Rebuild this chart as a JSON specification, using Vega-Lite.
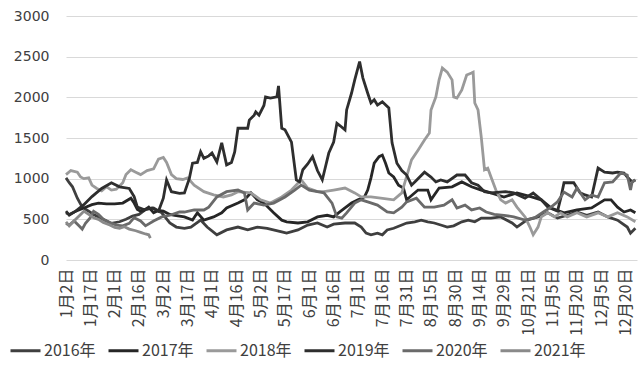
{
"$schema": "https://vega.github.io/schema/vega-lite/v6.json",
"width": 571, "height": 244,
"padding": {"left": 9, "top": 9, "right": 5, "bottom": 30},
"background": "white",
"config": {"view": {"stroke": null}, "font": "DejaVu Sans"},
"data": {"values": [
{"s":"2016年","d":0,"v":1010},{"s":"2016年","d":2,"v":950},{"s":"2016年","d":4,"v":900},{"s":"2016年","d":7,"v":760},{"s":"2016年","d":10,"v":650},{"s":"2016年","d":14,"v":600},{"s":"2016年","d":17,"v":560},{"s":"2016年","d":21,"v":520},{"s":"2016年","d":25,"v":480},{"s":"2016年","d":28,"v":450},{"s":"2016年","d":33,"v":470},{"s":"2016年","d":37,"v":500},{"s":"2016年","d":41,"v":540},{"s":"2016年","d":45,"v":560},{"s":"2016年","d":49,"v":620},{"s":"2016年","d":54,"v":640},{"s":"2016年","d":59,"v":580},{"s":"2016年","d":64,"v":455},{"s":"2016年","d":68,"v":405},{"s":"2016年","d":73,"v":390},{"s":"2016年","d":77,"v":405},{"s":"2016年","d":83,"v":490},{"s":"2016年","d":87,"v":405},{"s":"2016年","d":93,"v":310},{"s":"2016年","d":99,"v":370},{"s":"2016年","d":106,"v":405},{"s":"2016年","d":112,"v":370},{"s":"2016年","d":118,"v":405},{"s":"2016年","d":124,"v":390},{"s":"2016年","d":133,"v":345},{"s":"2016年","d":136,"v":330},{"s":"2016年","d":143,"v":370},{"s":"2016年","d":149,"v":430},{"s":"2016年","d":155,"v":455},{"s":"2016年","d":161,"v":405},{"s":"2016年","d":165,"v":440},{"s":"2016年","d":172,"v":455},{"s":"2016年","d":178,"v":455},{"s":"2016年","d":182,"v":405},{"s":"2016年","d":185,"v":330},{"s":"2016年","d":188,"v":310},{"s":"2016年","d":192,"v":330},{"s":"2016年","d":195,"v":310},{"s":"2016年","d":198,"v":370},{"s":"2016年","d":202,"v":390},{"s":"2016年","d":207,"v":430},{"s":"2016年","d":210,"v":455},{"s":"2016年","d":215,"v":470},{"s":"2016年","d":219,"v":490},{"s":"2016年","d":223,"v":470},{"s":"2016年","d":227,"v":455},{"s":"2016年","d":231,"v":430},{"s":"2016年","d":235,"v":405},{"s":"2016年","d":239,"v":420},{"s":"2016年","d":244,"v":470},{"s":"2016年","d":248,"v":490},{"s":"2016年","d":252,"v":470},{"s":"2016年","d":256,"v":515},{"s":"2016年","d":262,"v":515},{"s":"2016年","d":268,"v":530},{"s":"2016年","d":275,"v":455},{"s":"2016年","d":278,"v":405},{"s":"2016年","d":284,"v":490},{"s":"2016年","d":291,"v":530},{"s":"2016年","d":297,"v":580},{"s":"2016年","d":303,"v":515},{"s":"2016年","d":309,"v":550},{"s":"2016年","d":315,"v":590},{"s":"2016年","d":321,"v":550},{"s":"2016年","d":328,"v":590},{"s":"2016年","d":334,"v":530},{"s":"2016年","d":340,"v":490},{"s":"2016年","d":346,"v":405},{"s":"2016年","d":348,"v":330},{"s":"2016年","d":351,"v":390},
{"s":"2017年","d":0,"v":580},{"s":"2017年","d":2,"v":560},{"s":"2017年","d":6,"v":600},{"s":"2017年","d":11,"v":640},{"s":"2017年","d":16,"v":680},{"s":"2017年","d":20,"v":700},{"s":"2017年","d":25,"v":690},{"s":"2017年","d":30,"v":690},{"s":"2017年","d":35,"v":700},{"s":"2017年","d":40,"v":760},{"s":"2017年","d":42,"v":700},{"s":"2017年","d":44,"v":620},{"s":"2017年","d":46,"v":600},{"s":"2017年","d":48,"v":610},{"s":"2017年","d":51,"v":650},{"s":"2017年","d":54,"v":580},{"s":"2017年","d":57,"v":610},{"s":"2017年","d":60,"v":600},{"s":"2017年","d":64,"v":560},{"s":"2017年","d":67,"v":550},{"s":"2017年","d":70,"v":540},{"s":"2017年","d":73,"v":530},{"s":"2017年","d":78,"v":490},{"s":"2017年","d":81,"v":580},{"s":"2017年","d":85,"v":490},{"s":"2017年","d":91,"v":530},{"s":"2017年","d":96,"v":580},{"s":"2017年","d":99,"v":640},{"s":"2017年","d":106,"v":700},{"s":"2017年","d":110,"v":740},{"s":"2017年","d":114,"v":825},{"s":"2017年","d":118,"v":740},{"s":"2017年","d":122,"v":700},{"s":"2017年","d":128,"v":580},{"s":"2017年","d":133,"v":490},{"s":"2017年","d":136,"v":470},{"s":"2017年","d":143,"v":455},{"s":"2017年","d":149,"v":470},{"s":"2017年","d":155,"v":530},{"s":"2017年","d":161,"v":550},{"s":"2017年","d":165,"v":530},{"s":"2017年","d":168,"v":580},{"s":"2017年","d":172,"v":640},{"s":"2017年","d":176,"v":700},{"s":"2017年","d":180,"v":740},{"s":"2017年","d":184,"v":775},{"s":"2017年","d":186,"v":860},{"s":"2017年","d":188,"v":1010},{"s":"2017年","d":190,"v":1190},{"s":"2017年","d":193,"v":1270},{"s":"2017年","d":195,"v":1290},{"s":"2017年","d":197,"v":1190},{"s":"2017年","d":199,"v":1070},{"s":"2017年","d":202,"v":1020},{"s":"2017年","d":205,"v":920},{"s":"2017年","d":208,"v":885},{"s":"2017年","d":210,"v":740},{"s":"2017年","d":217,"v":860},{"s":"2017年","d":223,"v":860},{"s":"2017年","d":225,"v":740},{"s":"2017年","d":230,"v":885},{"s":"2017年","d":238,"v":900},{"s":"2017年","d":244,"v":960},{"s":"2017年","d":250,"v":900},{"s":"2017年","d":256,"v":860},{"s":"2017年","d":262,"v":825},{"s":"2017年","d":270,"v":775},{"s":"2017年","d":278,"v":825},{"s":"2017年","d":287,"v":775},{"s":"2017年","d":293,"v":740},{"s":"2017年","d":299,"v":640},{"s":"2017年","d":307,"v":580},{"s":"2017年","d":315,"v":615},{"s":"2017年","d":324,"v":640},{"s":"2017年","d":332,"v":740},{"s":"2017年","d":336,"v":740},{"s":"2017年","d":340,"v":650},{"s":"2017年","d":344,"v":590},{"s":"2017年","d":348,"v":615},{"s":"2017年","d":351,"v":580},
{"s":"2018年","d":0,"v":1050},{"s":"2018年","d":3,"v":1100},{"s":"2018年","d":7,"v":1080},{"s":"2018年","d":9,"v":1020},{"s":"2018年","d":11,"v":1000},{"s":"2018年","d":14,"v":1010},{"s":"2018年","d":16,"v":920},{"s":"2018年","d":19,"v":880},{"s":"2018年","d":22,"v":850},{"s":"2018年","d":25,"v":900},{"s":"2018年","d":28,"v":860},{"s":"2018年","d":31,"v":870},{"s":"2018年","d":35,"v":950},{"s":"2018年","d":37,"v":1050},{"s":"2018年","d":40,"v":1110},{"s":"2018年","d":43,"v":1080},{"s":"2018年","d":46,"v":1050},{"s":"2018年","d":50,"v":1100},{"s":"2018年","d":54,"v":1120},{"s":"2018年","d":57,"v":1240},{"s":"2018年","d":60,"v":1260},{"s":"2018年","d":62,"v":1200},{"s":"2018年","d":65,"v":1050},{"s":"2018年","d":68,"v":1000},{"s":"2018年","d":72,"v":990},{"s":"2018年","d":75,"v":1010},{"s":"2018年","d":79,"v":920},{"s":"2018年","d":85,"v":840},{"s":"2018年","d":91,"v":800},{"s":"2018年","d":97,"v":775},{"s":"2018年","d":102,"v":800},{"s":"2018年","d":106,"v":840},{"s":"2018年","d":114,"v":825},{"s":"2018年","d":120,"v":740},{"s":"2018年","d":126,"v":700},{"s":"2018年","d":133,"v":775},{"s":"2018年","d":139,"v":860},{"s":"2018年","d":145,"v":985},{"s":"2018年","d":149,"v":885},{"s":"2018年","d":155,"v":840},{"s":"2018年","d":159,"v":840},{"s":"2018年","d":165,"v":860},{"s":"2018年","d":172,"v":885},{"s":"2018年","d":178,"v":825},{"s":"2018年","d":182,"v":775},{"s":"2018年","d":188,"v":775},{"s":"2018年","d":194,"v":760},{"s":"2018年","d":202,"v":740},{"s":"2018年","d":207,"v":825},{"s":"2018年","d":209,"v":960},{"s":"2018年","d":213,"v":1230},{"s":"2018年","d":217,"v":1350},{"s":"2018年","d":221,"v":1475},{"s":"2018年","d":224,"v":1560},{"s":"2018年","d":225,"v":1845},{"s":"2018年","d":228,"v":2005},{"s":"2018年","d":230,"v":2215},{"s":"2018年","d":232,"v":2360},{"s":"2018年","d":235,"v":2310},{"s":"2018年","d":238,"v":2215},{"s":"2018年","d":239,"v":2005},{"s":"2018年","d":241,"v":1990},{"s":"2018年","d":244,"v":2090},{"s":"2018年","d":247,"v":2275},{"s":"2018年","d":250,"v":2300},{"s":"2018年","d":251,"v":2310},{"s":"2018年","d":252,"v":1930},{"s":"2018年","d":254,"v":1845},{"s":"2018年","d":256,"v":1510},{"s":"2018年","d":258,"v":1110},{"s":"2018年","d":260,"v":1130},{"s":"2018年","d":262,"v":1020},{"s":"2018年","d":265,"v":860},{"s":"2018年","d":268,"v":740},{"s":"2018年","d":271,"v":700},{"s":"2018年","d":275,"v":740},{"s":"2018年","d":278,"v":650},{"s":"2018年","d":283,"v":530},{"s":"2018年","d":286,"v":405},{"s":"2018年","d":288,"v":310},{"s":"2018年","d":291,"v":405},{"s":"2018年","d":293,"v":530},{"s":"2018年","d":297,"v":580},{"s":"2018年","d":301,"v":530},{"s":"2018年","d":305,"v":580},{"s":"2018年","d":309,"v":530},{"s":"2018年","d":315,"v":580},{"s":"2018年","d":321,"v":530},{"s":"2018年","d":328,"v":580},{"s":"2018年","d":334,"v":530},{"s":"2018年","d":340,"v":580},{"s":"2018年","d":346,"v":530},{"s":"2018年","d":351,"v":470},
{"s":"2019年","d":0,"v":600},{"s":"2019年","d":2,"v":550},{"s":"2019年","d":6,"v":600},{"s":"2019年","d":11,"v":680},{"s":"2019年","d":16,"v":780},{"s":"2019年","d":22,"v":880},{"s":"2019年","d":28,"v":950},{"s":"2019年","d":33,"v":900},{"s":"2019年","d":39,"v":880},{"s":"2019年","d":42,"v":780},{"s":"2019年","d":44,"v":650},{"s":"2019年","d":48,"v":620},{"s":"2019年","d":53,"v":640},{"s":"2019年","d":57,"v":600},{"s":"2019年","d":60,"v":760},{"s":"2019年","d":62,"v":985},{"s":"2019年","d":65,"v":840},{"s":"2019年","d":70,"v":820},{"s":"2019年","d":73,"v":824},{"s":"2019年","d":76,"v":1000},{"s":"2019年","d":78,"v":1190},{"s":"2019年","d":81,"v":1200},{"s":"2019年","d":83,"v":1330},{"s":"2019年","d":85,"v":1250},{"s":"2019年","d":88,"v":1280},{"s":"2019年","d":90,"v":1315},{"s":"2019年","d":93,"v":1205},{"s":"2019年","d":96,"v":1440},{"s":"2019年","d":99,"v":1170},{"s":"2019年","d":102,"v":1200},{"s":"2019年","d":104,"v":1330},{"s":"2019年","d":106,"v":1620},{"s":"2019年","d":112,"v":1620},{"s":"2019年","d":113,"v":1720},{"s":"2019年","d":116,"v":1780},{"s":"2019年","d":117,"v":1820},{"s":"2019年","d":119,"v":1780},{"s":"2019年","d":122,"v":1900},{"s":"2019年","d":123,"v":2005},{"s":"2019年","d":126,"v":1990},{"s":"2019年","d":130,"v":2005},{"s":"2019年","d":131,"v":2140},{"s":"2019年","d":133,"v":1620},{"s":"2019年","d":135,"v":1600},{"s":"2019年","d":139,"v":1450},{"s":"2019年","d":142,"v":985},{"s":"2019年","d":144,"v":960},{"s":"2019年","d":146,"v":1110},{"s":"2019年","d":149,"v":1180},{"s":"2019年","d":152,"v":1270},{"s":"2019年","d":155,"v":1100},{"s":"2019年","d":158,"v":985},{"s":"2019年","d":160,"v":1150},{"s":"2019年","d":162,"v":1315},{"s":"2019年","d":165,"v":1450},{"s":"2019年","d":167,"v":1680},{"s":"2019年","d":169,"v":1650},{"s":"2019年","d":172,"v":1600},{"s":"2019年","d":173,"v":1845},{"s":"2019年","d":176,"v":2050},{"s":"2019年","d":178,"v":2215},{"s":"2019年","d":181,"v":2440},{"s":"2019年","d":183,"v":2240},{"s":"2019年","d":186,"v":2050},{"s":"2019年","d":188,"v":1930},{"s":"2019年","d":190,"v":1970},{"s":"2019年","d":192,"v":1905},{"s":"2019年","d":195,"v":1945},{"s":"2019年","d":199,"v":1870},{"s":"2019年","d":201,"v":1440},{"s":"2019年","d":204,"v":1190},{"s":"2019年","d":207,"v":1100},{"s":"2019年","d":210,"v":1045},{"s":"2019年","d":213,"v":920},{"s":"2019年","d":215,"v":960},{"s":"2019年","d":221,"v":1080},{"s":"2019年","d":225,"v":1020},{"s":"2019年","d":228,"v":960},{"s":"2019年","d":231,"v":985},{"s":"2019年","d":235,"v":960},{"s":"2019年","d":241,"v":1045},{"s":"2019年","d":246,"v":1045},{"s":"2019年","d":250,"v":950},{"s":"2019年","d":254,"v":920},{"s":"2019年","d":258,"v":840},{"s":"2019年","d":262,"v":825},{"s":"2019年","d":271,"v":840},{"s":"2019年","d":276,"v":825},{"s":"2019年","d":283,"v":760},{"s":"2019年","d":288,"v":825},{"s":"2019年","d":293,"v":740},{"s":"2019年","d":297,"v":650},{"s":"2019年","d":303,"v":600},{"s":"2019年","d":305,"v":760},{"s":"2019年","d":307,"v":950},{"s":"2019年","d":313,"v":950},{"s":"2019年","d":317,"v":825},{"s":"2019年","d":320,"v":800},{"s":"2019年","d":324,"v":775},{"s":"2019年","d":328,"v":1130},{"s":"2019年","d":332,"v":1080},{"s":"2019年","d":337,"v":1070},{"s":"2019年","d":340,"v":1080},{"s":"2019年","d":344,"v":1070},{"s":"2019年","d":346,"v":1020},{"s":"2019年","d":349,"v":960},{"s":"2019年","d":351,"v":985},
{"s":"2020年","d":0,"v":450},{"s":"2020年","d":2,"v":430},{"s":"2020年","d":5,"v":480},{"s":"2020年","d":8,"v":420},{"s":"2020年","d":10,"v":380},{"s":"2020年","d":12,"v":450},{"s":"2020年","d":15,"v":520},{"s":"2020年","d":17,"v":600},{"s":"2020年","d":20,"v":560},{"s":"2020年","d":23,"v":500},{"s":"2020年","d":27,"v":460},{"s":"2020年","d":31,"v":430},{"s":"2020年","d":35,"v":420},{"s":"2020年","d":39,"v":450},{"s":"2020年","d":42,"v":520},{"s":"2020年","d":46,"v":480},{"s":"2020年","d":49,"v":420},{"s":"2020年","d":54,"v":480},{"s":"2020年","d":59,"v":530},{"s":"2020年","d":64,"v":550},{"s":"2020年","d":70,"v":590},{"s":"2020年","d":73,"v":590},{"s":"2020年","d":79,"v":615},{"s":"2020年","d":85,"v":615},{"s":"2020年","d":88,"v":650},{"s":"2020年","d":93,"v":775},{"s":"2020年","d":99,"v":840},{"s":"2020年","d":106,"v":860},{"s":"2020年","d":110,"v":825},{"s":"2020年","d":112,"v":615},{"s":"2020年","d":116,"v":700},{"s":"2020年","d":122,"v":675},{"s":"2020年","d":128,"v":700},{"s":"2020年","d":135,"v":775},{"s":"2020年","d":141,"v":860},{"s":"2020年","d":145,"v":920},{"s":"2020年","d":150,"v":860},{"s":"2020年","d":155,"v":840},{"s":"2020年","d":159,"v":825},{"s":"2020年","d":164,"v":700},{"s":"2020年","d":167,"v":530},{"s":"2020年","d":170,"v":515},{"s":"2020年","d":173,"v":580},{"s":"2020年","d":178,"v":700},{"s":"2020年","d":182,"v":740},{"s":"2020年","d":186,"v":715},{"s":"2020年","d":192,"v":675},{"s":"2020年","d":198,"v":590},{"s":"2020年","d":202,"v":580},{"s":"2020年","d":207,"v":650},{"s":"2020年","d":210,"v":715},{"s":"2020年","d":216,"v":760},{"s":"2020年","d":221,"v":650},{"s":"2020年","d":227,"v":650},{"s":"2020年","d":233,"v":675},{"s":"2020年","d":238,"v":740},{"s":"2020年","d":241,"v":640},{"s":"2020年","d":246,"v":675},{"s":"2020年","d":250,"v":615},{"s":"2020年","d":255,"v":640},{"s":"2020年","d":259,"v":590},{"s":"2020年","d":264,"v":560},{"s":"2020年","d":270,"v":550},{"s":"2020年","d":276,"v":530},{"s":"2020年","d":283,"v":490},{"s":"2020年","d":289,"v":520},{"s":"2020年","d":295,"v":600},{"s":"2020年","d":299,"v":650},{"s":"2020年","d":303,"v":715},{"s":"2020年","d":307,"v":835},{"s":"2020年","d":312,"v":775},{"s":"2020年","d":315,"v":885},{"s":"2020年","d":320,"v":740},{"s":"2020年","d":324,"v":800},{"s":"2020年","d":328,"v":775},{"s":"2020年","d":332,"v":950},{"s":"2020年","d":337,"v":960},{"s":"2020年","d":342,"v":1070},{"s":"2020年","d":346,"v":1045},{"s":"2020年","d":348,"v":860},{"s":"2020年","d":349,"v":960},{"s":"2020年","d":351,"v":985},
{"s":"2021年","d":0,"v":470},{"s":"2021年","d":2,"v":420},{"s":"2021年","d":6,"v":500},{"s":"2021年","d":9,"v":560},{"s":"2021年","d":11,"v":600},{"s":"2021年","d":14,"v":560},{"s":"2021年","d":17,"v":520},{"s":"2021年","d":20,"v":500},{"s":"2021年","d":23,"v":460},{"s":"2021年","d":27,"v":430},{"s":"2021年","d":30,"v":400},{"s":"2021年","d":33,"v":390},{"s":"2021年","d":36,"v":410},{"s":"2021年","d":39,"v":380},{"s":"2021年","d":43,"v":360},{"s":"2021年","d":46,"v":340},{"s":"2021年","d":49,"v":320},{"s":"2021年","d":51,"v":310},{"s":"2021年","d":52,"v":270}
]},
"mark": {"type": "line", "strokeWidth": 2.8},
"encoding": {
"x": {"field": "d", "type": "quantitative", "scale": {"domain": [0, 352], "nice": false, "zero": false},
 "axis": {"values": [0,15,30,45,60,75,90,105,120,135,150,165,180,195,210,225,240,255,270,285,300,315,330,345],
 "labelExpr": "['1月2日','1月17日','2月1日','2月16日','3月2日','3月17日','4月1日','4月16日','5月2日','5月17日','6月1日','6月16日','7月1日','7月16日','7月31日','8月15日','8月30日','9月14日','9月29日','10月21日','11月5日','11月20日','12月5日','12月20日'][round(datum.value/15)]",
 "labelAngle": 270, "labelAlign": "right", "labelBaseline": "middle", "labelFont": "Noto Sans CJK SC", "labelFontSize": 16, "labelColor": "#404040",
 "grid": false, "ticks": false, "domain": false, "labelPadding": 8, "title": null, "labelFlush": false, "labelOverlap": false}},
"y": {"field": "v", "type": "quantitative", "scale": {"domain": [0, 3000], "nice": false},
 "axis": {"values": [0,500,1000,1500,2000,2500,3000], "format": "d", "grid": true, "gridColor": "#d9d9d9", "gridWidth": 1, "domain": false, "ticks": false,
 "labelFont": "DejaVu Sans", "labelFontSize": 14, "labelPadding": 17, "labelColor": "#404040", "title": null}},
"color": {"field": "s", "type": "nominal",
 "scale": {"domain": ["2016年","2017年","2018年","2019年","2020年","2021年"], "range": ["#3f3f3f","#262626","#9a9a9a","#2e2e2e","#6a6a6a","#8a8a8a"]},
 "legend": {"orient": "none", "legendX": -57, "legendY": 318, "direction": "horizontal", "title": null,
 "symbolType": "stroke", "symbolSize": 900, "symbolStrokeWidth": 3, "labelFont": "Noto Sans CJK SC", "labelFontSize": 16, "labelColor": "#404040", "labelOffset": 2, "columnPadding": 6}}
}
}
